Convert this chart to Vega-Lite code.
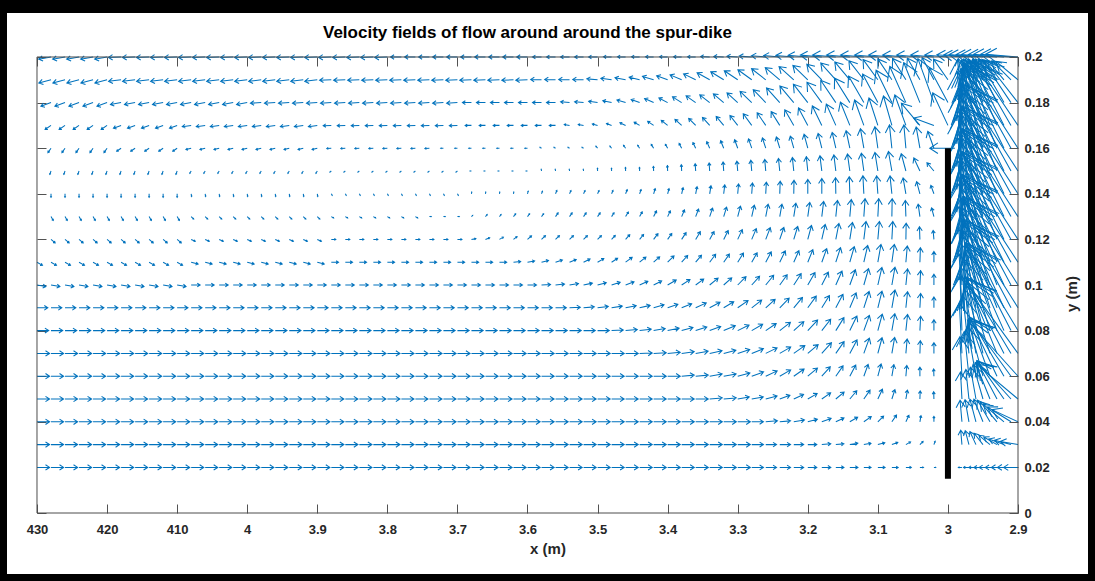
{
"$schema":"https://vega.github.io/schema/vega-lite/v6.json",
"width":1095,"height":581,
"autosize":{"type":"fit","contains":"padding"},
"padding":{"left":7,"right":7,"top":13,"bottom":7},
"background":"#000000",
"config":{"view":{"fill":"#ffffff","stroke":null}},
"title":{"text":"Velocity fields of flow around around the spur-dike","font":"Liberation Sans","fontSize":17,"fontWeight":"bold","color":"#000000","anchor":"middle","frame":"group","offset":-37,"baseline":"middle","dx":-20},
"resolve":{"axis":{"x":"independent","y":"independent"}},
"layer":[
{"data":{"values":[
{"x":4.3,"y":0.02,"d":0,"m":7},{"x":4.28,"y":0.02,"d":0,"m":7},{"x":4.26,"y":0.02,"d":0,"m":7},{"x":4.24,"y":0.02,"d":0,"m":7},{"x":4.22,"y":0.02,"d":0,"m":7},{"x":4.2,"y":0.02,"d":0,"m":7},{"x":4.18,"y":0.02,"d":0,"m":7},{"x":4.16,"y":0.02,"d":0,"m":7},{"x":4.14,"y":0.02,"d":0,"m":7},{"x":4.12,"y":0.02,"d":0,"m":7},{"x":4.1,"y":0.02,"d":0,"m":7},{"x":4.08,"y":0.02,"d":0,"m":7},{"x":4.06,"y":0.02,"d":0,"m":7},{"x":4.04,"y":0.02,"d":0,"m":7},{"x":4.02,"y":0.02,"d":0,"m":7},{"x":4,"y":0.02,"d":0,"m":7},{"x":3.98,"y":0.02,"d":0,"m":7},{"x":3.96,"y":0.02,"d":0,"m":7},{"x":3.94,"y":0.02,"d":0,"m":7},{"x":3.92,"y":0.02,"d":0,"m":7},{"x":3.9,"y":0.02,"d":0,"m":7},{"x":3.88,"y":0.02,"d":0,"m":7},{"x":3.86,"y":0.02,"d":0,"m":7},{"x":3.84,"y":0.02,"d":0,"m":7},{"x":3.82,"y":0.02,"d":0,"m":7},{"x":3.8,"y":0.02,"d":0,"m":7},{"x":3.78,"y":0.02,"d":0,"m":7},{"x":3.76,"y":0.02,"d":0,"m":7},{"x":3.74,"y":0.02,"d":0,"m":7},{"x":3.72,"y":0.02,"d":0,"m":7},{"x":3.7,"y":0.02,"d":0,"m":7},{"x":3.68,"y":0.02,"d":0,"m":7},{"x":3.66,"y":0.02,"d":0,"m":7},{"x":3.64,"y":0.02,"d":0,"m":7},{"x":3.62,"y":0.02,"d":0,"m":7},{"x":3.6,"y":0.02,"d":0,"m":7},{"x":3.58,"y":0.02,"d":0,"m":7},{"x":3.56,"y":0.02,"d":0,"m":7},{"x":3.54,"y":0.02,"d":0,"m":7},{"x":3.52,"y":0.02,"d":0,"m":7},{"x":3.5,"y":0.02,"d":0,"m":7},{"x":3.48,"y":0.02,"d":0,"m":7},{"x":3.46,"y":0.02,"d":0,"m":7},{"x":3.44,"y":0.02,"d":0,"m":7},{"x":3.42,"y":0.02,"d":0,"m":7},{"x":3.4,"y":0.02,"d":0,"m":7},{"x":3.38,"y":0.02,"d":0,"m":7},{"x":3.36,"y":0.02,"d":0,"m":7},{"x":3.34,"y":0.02,"d":0,"m":7},{"x":3.32,"y":0.02,"d":0,"m":7},{"x":3.3,"y":0.02,"d":0,"m":7},{"x":3.28,"y":0.02,"d":0,"m":6.5},{"x":3.26,"y":0.02,"d":0,"m":6},{"x":3.24,"y":0.02,"d":0,"m":6},{"x":3.22,"y":0.02,"d":0,"m":5.5},{"x":3.2,"y":0.02,"d":0,"m":5},{"x":3.18,"y":0.02,"d":0,"m":5},{"x":3.16,"y":0.02,"d":0,"m":4.5},{"x":3.14,"y":0.02,"d":0,"m":4.5},{"x":3.12,"y":0.02,"d":0,"m":4},{"x":3.1,"y":0.02,"d":0,"m":4},{"x":3.08,"y":0.02,"d":0,"m":3.5},{"x":3.06,"y":0.02,"d":0,"m":3},{"x":3.04,"y":0.02,"d":0,"m":2},{"x":3.02,"y":0.02,"d":0,"m":1},
{"x":4.3,"y":0.03,"d":0,"m":7},{"x":4.28,"y":0.03,"d":0,"m":7},{"x":4.26,"y":0.03,"d":0,"m":7},{"x":4.24,"y":0.03,"d":0,"m":7},{"x":4.22,"y":0.03,"d":0,"m":7},{"x":4.2,"y":0.03,"d":0,"m":7},{"x":4.18,"y":0.03,"d":0,"m":7},{"x":4.16,"y":0.03,"d":0,"m":7},{"x":4.14,"y":0.03,"d":0,"m":7},{"x":4.12,"y":0.03,"d":0,"m":7},{"x":4.1,"y":0.03,"d":0,"m":7},{"x":4.08,"y":0.03,"d":0,"m":7},{"x":4.06,"y":0.03,"d":0,"m":7},{"x":4.04,"y":0.03,"d":0,"m":7},{"x":4.02,"y":0.03,"d":0,"m":7},{"x":4,"y":0.03,"d":0,"m":7},{"x":3.98,"y":0.03,"d":0,"m":7},{"x":3.96,"y":0.03,"d":0,"m":7},{"x":3.94,"y":0.03,"d":0,"m":7},{"x":3.92,"y":0.03,"d":0,"m":7},{"x":3.9,"y":0.03,"d":0,"m":7},{"x":3.88,"y":0.03,"d":0,"m":7},{"x":3.86,"y":0.03,"d":0,"m":7},{"x":3.84,"y":0.03,"d":0,"m":7},{"x":3.82,"y":0.03,"d":0,"m":7},{"x":3.8,"y":0.03,"d":0,"m":7},{"x":3.78,"y":0.03,"d":0,"m":7},{"x":3.76,"y":0.03,"d":0,"m":7},{"x":3.74,"y":0.03,"d":0,"m":7},{"x":3.72,"y":0.03,"d":0,"m":7},{"x":3.7,"y":0.03,"d":0,"m":7},{"x":3.68,"y":0.03,"d":0,"m":7},{"x":3.66,"y":0.03,"d":0,"m":7},{"x":3.64,"y":0.03,"d":0,"m":7},{"x":3.62,"y":0.03,"d":0,"m":7},{"x":3.6,"y":0.03,"d":0,"m":7},{"x":3.58,"y":0.03,"d":0,"m":7},{"x":3.56,"y":0.03,"d":0,"m":7},{"x":3.54,"y":0.03,"d":0,"m":7},{"x":3.52,"y":0.03,"d":0,"m":7},{"x":3.5,"y":0.03,"d":0,"m":7},{"x":3.48,"y":0.03,"d":0,"m":7},{"x":3.46,"y":0.03,"d":0,"m":7},{"x":3.44,"y":0.03,"d":0,"m":7},{"x":3.42,"y":0.03,"d":0,"m":7},{"x":3.4,"y":0.03,"d":0,"m":7},{"x":3.38,"y":0.03,"d":0,"m":7},{"x":3.36,"y":0.03,"d":0,"m":7},{"x":3.34,"y":0.03,"d":0,"m":7},{"x":3.32,"y":0.03,"d":0,"m":7},{"x":3.3,"y":0.03,"d":0,"m":7},{"x":3.28,"y":0.03,"d":0,"m":6.5},{"x":3.26,"y":0.03,"d":0,"m":6},{"x":3.24,"y":0.03,"d":0,"m":6},{"x":3.22,"y":0.03,"d":0,"m":5.5},{"x":3.2,"y":0.03,"d":0,"m":5},{"x":3.18,"y":0.03,"d":5,"m":5},{"x":3.16,"y":0.03,"d":5,"m":4.5},{"x":3.14,"y":0.03,"d":10,"m":4.5},{"x":3.12,"y":0.03,"d":10,"m":4},{"x":3.1,"y":0.03,"d":15,"m":4},{"x":3.08,"y":0.03,"d":20,"m":3.5},{"x":3.06,"y":0.03,"d":30,"m":3},{"x":3.04,"y":0.03,"d":45,"m":2.5},{"x":3.02,"y":0.03,"d":70,"m":2},
{"x":4.3,"y":0.04,"d":0,"m":7},{"x":4.28,"y":0.04,"d":0,"m":7},{"x":4.26,"y":0.04,"d":0,"m":7},{"x":4.24,"y":0.04,"d":0,"m":7},{"x":4.22,"y":0.04,"d":0,"m":7},{"x":4.2,"y":0.04,"d":0,"m":7},{"x":4.18,"y":0.04,"d":0,"m":7},{"x":4.16,"y":0.04,"d":0,"m":7},{"x":4.14,"y":0.04,"d":0,"m":7},{"x":4.12,"y":0.04,"d":0,"m":7},{"x":4.1,"y":0.04,"d":0,"m":7},{"x":4.08,"y":0.04,"d":0,"m":7},{"x":4.06,"y":0.04,"d":0,"m":7},{"x":4.04,"y":0.04,"d":0,"m":7},{"x":4.02,"y":0.04,"d":0,"m":7},{"x":4,"y":0.04,"d":0,"m":7},{"x":3.98,"y":0.04,"d":0,"m":7},{"x":3.96,"y":0.04,"d":0,"m":7},{"x":3.94,"y":0.04,"d":0,"m":7},{"x":3.92,"y":0.04,"d":0,"m":7},{"x":3.9,"y":0.04,"d":0,"m":7},{"x":3.88,"y":0.04,"d":0,"m":7},{"x":3.86,"y":0.04,"d":0,"m":7},{"x":3.84,"y":0.04,"d":0,"m":7},{"x":3.82,"y":0.04,"d":0,"m":7},{"x":3.8,"y":0.04,"d":0,"m":7},{"x":3.78,"y":0.04,"d":0,"m":7},{"x":3.76,"y":0.04,"d":0,"m":7},{"x":3.74,"y":0.04,"d":0,"m":7},{"x":3.72,"y":0.04,"d":0,"m":7},{"x":3.7,"y":0.04,"d":0,"m":7},{"x":3.68,"y":0.04,"d":0,"m":7},{"x":3.66,"y":0.04,"d":0,"m":7},{"x":3.64,"y":0.04,"d":0,"m":7},{"x":3.62,"y":0.04,"d":0,"m":7},{"x":3.6,"y":0.04,"d":0,"m":7},{"x":3.58,"y":0.04,"d":0,"m":7},{"x":3.56,"y":0.04,"d":0,"m":7},{"x":3.54,"y":0.04,"d":0,"m":7},{"x":3.52,"y":0.04,"d":0,"m":7},{"x":3.5,"y":0.04,"d":0,"m":7},{"x":3.48,"y":0.04,"d":0,"m":7},{"x":3.46,"y":0.04,"d":0,"m":7},{"x":3.44,"y":0.04,"d":0,"m":7},{"x":3.42,"y":0.04,"d":0,"m":7},{"x":3.4,"y":0.04,"d":0,"m":7},{"x":3.38,"y":0.04,"d":0,"m":7},{"x":3.36,"y":0.04,"d":0,"m":7},{"x":3.34,"y":0.04,"d":0,"m":7},{"x":3.32,"y":0.04,"d":0,"m":7},{"x":3.3,"y":0.04,"d":0,"m":7},{"x":3.28,"y":0.04,"d":0,"m":6.5},{"x":3.26,"y":0.04,"d":5,"m":6.5},{"x":3.24,"y":0.04,"d":5,"m":6},{"x":3.22,"y":0.04,"d":10,"m":6},{"x":3.2,"y":0.04,"d":15,"m":5.5},{"x":3.18,"y":0.04,"d":20,"m":5.5},{"x":3.16,"y":0.04,"d":25,"m":5},{"x":3.14,"y":0.04,"d":30,"m":5},{"x":3.12,"y":0.04,"d":35,"m":5},{"x":3.1,"y":0.04,"d":45,"m":4.5},{"x":3.08,"y":0.04,"d":55,"m":4.5},{"x":3.06,"y":0.04,"d":65,"m":4},{"x":3.04,"y":0.04,"d":80,"m":3.5},{"x":3.02,"y":0.04,"d":90,"m":3},
{"x":4.3,"y":0.05,"d":0,"m":7},{"x":4.28,"y":0.05,"d":0,"m":7},{"x":4.26,"y":0.05,"d":0,"m":7},{"x":4.24,"y":0.05,"d":0,"m":7},{"x":4.22,"y":0.05,"d":0,"m":7},{"x":4.2,"y":0.05,"d":0,"m":7},{"x":4.18,"y":0.05,"d":0,"m":7},{"x":4.16,"y":0.05,"d":0,"m":7},{"x":4.14,"y":0.05,"d":0,"m":7},{"x":4.12,"y":0.05,"d":0,"m":7},{"x":4.1,"y":0.05,"d":0,"m":7},{"x":4.08,"y":0.05,"d":0,"m":7},{"x":4.06,"y":0.05,"d":0,"m":7},{"x":4.04,"y":0.05,"d":0,"m":7},{"x":4.02,"y":0.05,"d":0,"m":7},{"x":4,"y":0.05,"d":0,"m":7},{"x":3.98,"y":0.05,"d":0,"m":7},{"x":3.96,"y":0.05,"d":0,"m":7},{"x":3.94,"y":0.05,"d":0,"m":7},{"x":3.92,"y":0.05,"d":0,"m":7},{"x":3.9,"y":0.05,"d":0,"m":7},{"x":3.88,"y":0.05,"d":0,"m":7},{"x":3.86,"y":0.05,"d":0,"m":7},{"x":3.84,"y":0.05,"d":0,"m":7},{"x":3.82,"y":0.05,"d":0,"m":7},{"x":3.8,"y":0.05,"d":0,"m":7},{"x":3.78,"y":0.05,"d":0,"m":7},{"x":3.76,"y":0.05,"d":0,"m":7},{"x":3.74,"y":0.05,"d":0,"m":7},{"x":3.72,"y":0.05,"d":0,"m":7},{"x":3.7,"y":0.05,"d":0,"m":7},{"x":3.68,"y":0.05,"d":0,"m":7},{"x":3.66,"y":0.05,"d":0,"m":7},{"x":3.64,"y":0.05,"d":0,"m":7},{"x":3.62,"y":0.05,"d":0,"m":7},{"x":3.6,"y":0.05,"d":0,"m":7},{"x":3.58,"y":0.05,"d":0,"m":7},{"x":3.56,"y":0.05,"d":0,"m":7},{"x":3.54,"y":0.05,"d":0,"m":7},{"x":3.52,"y":0.05,"d":0,"m":7},{"x":3.5,"y":0.05,"d":0,"m":7},{"x":3.48,"y":0.05,"d":0,"m":7},{"x":3.46,"y":0.05,"d":0,"m":7},{"x":3.44,"y":0.05,"d":0,"m":7},{"x":3.42,"y":0.05,"d":0,"m":7},{"x":3.4,"y":0.05,"d":0,"m":7},{"x":3.38,"y":0.05,"d":0,"m":7},{"x":3.36,"y":0.05,"d":0,"m":7},{"x":3.34,"y":0.05,"d":5,"m":7},{"x":3.32,"y":0.05,"d":5,"m":7},{"x":3.3,"y":0.05,"d":10,"m":6.5},{"x":3.28,"y":0.05,"d":10,"m":6.5},{"x":3.26,"y":0.05,"d":15,"m":6.5},{"x":3.24,"y":0.05,"d":20,"m":6},{"x":3.22,"y":0.05,"d":25,"m":6},{"x":3.2,"y":0.05,"d":30,"m":6},{"x":3.18,"y":0.05,"d":35,"m":6},{"x":3.16,"y":0.05,"d":40,"m":6},{"x":3.14,"y":0.05,"d":50,"m":6},{"x":3.12,"y":0.05,"d":55,"m":6},{"x":3.1,"y":0.05,"d":65,"m":6},{"x":3.08,"y":0.05,"d":72,"m":5.5},{"x":3.06,"y":0.05,"d":80,"m":5},{"x":3.04,"y":0.05,"d":88,"m":4.5},{"x":3.02,"y":0.05,"d":92,"m":4},
{"x":4.3,"y":0.06,"d":0,"m":7},{"x":4.28,"y":0.06,"d":0,"m":7},{"x":4.26,"y":0.06,"d":0,"m":7},{"x":4.24,"y":0.06,"d":0,"m":7},{"x":4.22,"y":0.06,"d":0,"m":7},{"x":4.2,"y":0.06,"d":0,"m":7},{"x":4.18,"y":0.06,"d":0,"m":7},{"x":4.16,"y":0.06,"d":0,"m":7},{"x":4.14,"y":0.06,"d":0,"m":7},{"x":4.12,"y":0.06,"d":0,"m":7},{"x":4.1,"y":0.06,"d":0,"m":7},{"x":4.08,"y":0.06,"d":0,"m":7},{"x":4.06,"y":0.06,"d":0,"m":7},{"x":4.04,"y":0.06,"d":0,"m":7},{"x":4.02,"y":0.06,"d":0,"m":7},{"x":4,"y":0.06,"d":0,"m":7},{"x":3.98,"y":0.06,"d":0,"m":7},{"x":3.96,"y":0.06,"d":0,"m":7},{"x":3.94,"y":0.06,"d":0,"m":7},{"x":3.92,"y":0.06,"d":0,"m":7},{"x":3.9,"y":0.06,"d":0,"m":7},{"x":3.88,"y":0.06,"d":0,"m":7},{"x":3.86,"y":0.06,"d":0,"m":7},{"x":3.84,"y":0.06,"d":0,"m":7},{"x":3.82,"y":0.06,"d":0,"m":7},{"x":3.8,"y":0.06,"d":0,"m":7},{"x":3.78,"y":0.06,"d":0,"m":7},{"x":3.76,"y":0.06,"d":0,"m":7},{"x":3.74,"y":0.06,"d":0,"m":7},{"x":3.72,"y":0.06,"d":0,"m":7},{"x":3.7,"y":0.06,"d":0,"m":7},{"x":3.68,"y":0.06,"d":0,"m":7},{"x":3.66,"y":0.06,"d":0,"m":7},{"x":3.64,"y":0.06,"d":0,"m":7},{"x":3.62,"y":0.06,"d":0,"m":7},{"x":3.6,"y":0.06,"d":0,"m":7},{"x":3.58,"y":0.06,"d":0,"m":7},{"x":3.56,"y":0.06,"d":0,"m":7},{"x":3.54,"y":0.06,"d":0,"m":7},{"x":3.52,"y":0.06,"d":0,"m":7},{"x":3.5,"y":0.06,"d":0,"m":7},{"x":3.48,"y":0.06,"d":0,"m":7},{"x":3.46,"y":0.06,"d":0,"m":7},{"x":3.44,"y":0.06,"d":0,"m":7},{"x":3.42,"y":0.06,"d":0,"m":7},{"x":3.4,"y":0.06,"d":0,"m":7},{"x":3.38,"y":0.06,"d":5,"m":7},{"x":3.36,"y":0.06,"d":5,"m":7},{"x":3.34,"y":0.06,"d":10,"m":7},{"x":3.32,"y":0.06,"d":10,"m":7},{"x":3.3,"y":0.06,"d":15,"m":7},{"x":3.28,"y":0.06,"d":20,"m":7},{"x":3.26,"y":0.06,"d":25,"m":7},{"x":3.24,"y":0.06,"d":30,"m":7},{"x":3.22,"y":0.06,"d":35,"m":7},{"x":3.2,"y":0.06,"d":40,"m":7},{"x":3.18,"y":0.06,"d":48,"m":7},{"x":3.16,"y":0.06,"d":55,"m":7},{"x":3.14,"y":0.06,"d":62,"m":7},{"x":3.12,"y":0.06,"d":70,"m":7},{"x":3.1,"y":0.06,"d":75,"m":7},{"x":3.08,"y":0.06,"d":80,"m":6.5},{"x":3.06,"y":0.06,"d":85,"m":6},{"x":3.04,"y":0.06,"d":90,"m":5},{"x":3.02,"y":0.06,"d":92,"m":4},
{"x":4.3,"y":0.07,"d":0,"m":7},{"x":4.28,"y":0.07,"d":0,"m":7},{"x":4.26,"y":0.07,"d":0,"m":7},{"x":4.24,"y":0.07,"d":0,"m":7},{"x":4.22,"y":0.07,"d":0,"m":7},{"x":4.2,"y":0.07,"d":0,"m":7},{"x":4.18,"y":0.07,"d":0,"m":7},{"x":4.16,"y":0.07,"d":0,"m":7},{"x":4.14,"y":0.07,"d":0,"m":7},{"x":4.12,"y":0.07,"d":0,"m":7},{"x":4.1,"y":0.07,"d":0,"m":7},{"x":4.08,"y":0.07,"d":0,"m":7},{"x":4.06,"y":0.07,"d":0,"m":7},{"x":4.04,"y":0.07,"d":0,"m":7},{"x":4.02,"y":0.07,"d":0,"m":7},{"x":4,"y":0.07,"d":0,"m":7},{"x":3.98,"y":0.07,"d":0,"m":7},{"x":3.96,"y":0.07,"d":0,"m":7},{"x":3.94,"y":0.07,"d":0,"m":7},{"x":3.92,"y":0.07,"d":0,"m":7},{"x":3.9,"y":0.07,"d":0,"m":7},{"x":3.88,"y":0.07,"d":0,"m":7},{"x":3.86,"y":0.07,"d":0,"m":7},{"x":3.84,"y":0.07,"d":0,"m":7},{"x":3.82,"y":0.07,"d":0,"m":7},{"x":3.8,"y":0.07,"d":0,"m":7},{"x":3.78,"y":0.07,"d":0,"m":7},{"x":3.76,"y":0.07,"d":0,"m":7},{"x":3.74,"y":0.07,"d":0,"m":7},{"x":3.72,"y":0.07,"d":0,"m":7},{"x":3.7,"y":0.07,"d":0,"m":7},{"x":3.68,"y":0.07,"d":0,"m":7},{"x":3.66,"y":0.07,"d":0,"m":7},{"x":3.64,"y":0.07,"d":0,"m":7},{"x":3.62,"y":0.07,"d":0,"m":7},{"x":3.6,"y":0.07,"d":0,"m":7},{"x":3.58,"y":0.07,"d":0,"m":7},{"x":3.56,"y":0.07,"d":0,"m":7},{"x":3.54,"y":0.07,"d":0,"m":7},{"x":3.52,"y":0.07,"d":0,"m":7},{"x":3.5,"y":0.07,"d":0,"m":7},{"x":3.48,"y":0.07,"d":0,"m":7},{"x":3.46,"y":0.07,"d":0,"m":7},{"x":3.44,"y":0.07,"d":2,"m":7},{"x":3.42,"y":0.07,"d":3,"m":7},{"x":3.4,"y":0.07,"d":5,"m":7},{"x":3.38,"y":0.07,"d":8,"m":7},{"x":3.36,"y":0.07,"d":10,"m":7},{"x":3.34,"y":0.07,"d":12,"m":7},{"x":3.32,"y":0.07,"d":15,"m":7},{"x":3.3,"y":0.07,"d":18,"m":7},{"x":3.28,"y":0.07,"d":22,"m":7},{"x":3.26,"y":0.07,"d":26,"m":7},{"x":3.24,"y":0.07,"d":30,"m":7},{"x":3.22,"y":0.07,"d":35,"m":7.5},{"x":3.2,"y":0.07,"d":40,"m":7.5},{"x":3.18,"y":0.07,"d":48,"m":8},{"x":3.16,"y":0.07,"d":55,"m":8},{"x":3.14,"y":0.07,"d":62,"m":8.5},{"x":3.12,"y":0.07,"d":70,"m":9},{"x":3.1,"y":0.07,"d":75,"m":9},{"x":3.08,"y":0.07,"d":80,"m":9},{"x":3.06,"y":0.07,"d":85,"m":8},{"x":3.04,"y":0.07,"d":88,"m":7},{"x":3.02,"y":0.07,"d":90,"m":6},
{"x":4.3,"y":0.08,"d":0,"m":6.5},{"x":4.28,"y":0.08,"d":0,"m":6.5},{"x":4.26,"y":0.08,"d":0,"m":6.5},{"x":4.24,"y":0.08,"d":0,"m":6.5},{"x":4.22,"y":0.08,"d":0,"m":6.5},{"x":4.2,"y":0.08,"d":0,"m":6.5},{"x":4.18,"y":0.08,"d":0,"m":6.5},{"x":4.16,"y":0.08,"d":0,"m":6.5},{"x":4.14,"y":0.08,"d":0,"m":6.5},{"x":4.12,"y":0.08,"d":0,"m":6.5},{"x":4.1,"y":0.08,"d":0,"m":6.5},{"x":4.08,"y":0.08,"d":0,"m":6.5},{"x":4.06,"y":0.08,"d":0,"m":6.5},{"x":4.04,"y":0.08,"d":0,"m":6.5},{"x":4.02,"y":0.08,"d":0,"m":6.5},{"x":4,"y":0.08,"d":0,"m":6.5},{"x":3.98,"y":0.08,"d":0,"m":6.5},{"x":3.96,"y":0.08,"d":0,"m":6.5},{"x":3.94,"y":0.08,"d":0,"m":6.5},{"x":3.92,"y":0.08,"d":0,"m":6.5},{"x":3.9,"y":0.08,"d":0,"m":6.5},{"x":3.88,"y":0.08,"d":0,"m":6.5},{"x":3.86,"y":0.08,"d":0,"m":6.5},{"x":3.84,"y":0.08,"d":0,"m":6.5},{"x":3.82,"y":0.08,"d":0,"m":6.5},{"x":3.8,"y":0.08,"d":0,"m":6.5},{"x":3.78,"y":0.08,"d":0,"m":6.5},{"x":3.76,"y":0.08,"d":0,"m":6.5},{"x":3.74,"y":0.08,"d":0,"m":6.5},{"x":3.72,"y":0.08,"d":0,"m":6.5},{"x":3.7,"y":0.08,"d":0,"m":6.5},{"x":3.68,"y":0.08,"d":0,"m":6.5},{"x":3.66,"y":0.08,"d":0,"m":6.5},{"x":3.64,"y":0.08,"d":0,"m":6.5},{"x":3.62,"y":0.08,"d":0,"m":6.5},{"x":3.6,"y":0.08,"d":0,"m":6.5},{"x":3.58,"y":0.08,"d":0,"m":6.5},{"x":3.56,"y":0.08,"d":0,"m":6.5},{"x":3.54,"y":0.08,"d":0,"m":6.5},{"x":3.52,"y":0.08,"d":0,"m":6.5},{"x":3.5,"y":0.08,"d":0,"m":6.5},{"x":3.48,"y":0.08,"d":3,"m":6.5},{"x":3.46,"y":0.08,"d":5,"m":6.5},{"x":3.44,"y":0.08,"d":7,"m":6.5},{"x":3.42,"y":0.08,"d":10,"m":6.5},{"x":3.4,"y":0.08,"d":12,"m":6.5},{"x":3.38,"y":0.08,"d":15,"m":6.5},{"x":3.36,"y":0.08,"d":18,"m":6.5},{"x":3.34,"y":0.08,"d":20,"m":6.5},{"x":3.32,"y":0.08,"d":23,"m":7},{"x":3.3,"y":0.08,"d":26,"m":7},{"x":3.28,"y":0.08,"d":30,"m":7},{"x":3.26,"y":0.08,"d":34,"m":7},{"x":3.24,"y":0.08,"d":38,"m":7.5},{"x":3.22,"y":0.08,"d":42,"m":7.5},{"x":3.2,"y":0.08,"d":47,"m":8},{"x":3.18,"y":0.08,"d":52,"m":8},{"x":3.16,"y":0.08,"d":58,"m":8.5},{"x":3.14,"y":0.08,"d":64,"m":9},{"x":3.12,"y":0.08,"d":70,"m":9},{"x":3.1,"y":0.08,"d":75,"m":9.5},{"x":3.08,"y":0.08,"d":80,"m":9.5},{"x":3.06,"y":0.08,"d":84,"m":9},{"x":3.04,"y":0.08,"d":87,"m":8},{"x":3.02,"y":0.08,"d":90,"m":6},
{"x":4.3,"y":0.09,"d":0,"m":6},{"x":4.28,"y":0.09,"d":0,"m":6},{"x":4.26,"y":0.09,"d":0,"m":6},{"x":4.24,"y":0.09,"d":0,"m":6},{"x":4.22,"y":0.09,"d":0,"m":6},{"x":4.2,"y":0.09,"d":0,"m":6},{"x":4.18,"y":0.09,"d":0,"m":6},{"x":4.16,"y":0.09,"d":0,"m":6},{"x":4.14,"y":0.09,"d":0,"m":6},{"x":4.12,"y":0.09,"d":0,"m":6},{"x":4.1,"y":0.09,"d":0,"m":6},{"x":4.08,"y":0.09,"d":0,"m":6},{"x":4.06,"y":0.09,"d":0,"m":6},{"x":4.04,"y":0.09,"d":0,"m":6},{"x":4.02,"y":0.09,"d":0,"m":6},{"x":4,"y":0.09,"d":0,"m":6},{"x":3.98,"y":0.09,"d":0,"m":6},{"x":3.96,"y":0.09,"d":0,"m":6},{"x":3.94,"y":0.09,"d":0,"m":6},{"x":3.92,"y":0.09,"d":0,"m":6},{"x":3.9,"y":0.09,"d":0,"m":6},{"x":3.88,"y":0.09,"d":0,"m":6},{"x":3.86,"y":0.09,"d":0,"m":6},{"x":3.84,"y":0.09,"d":0,"m":6},{"x":3.82,"y":0.09,"d":0,"m":6},{"x":3.8,"y":0.09,"d":0,"m":6},{"x":3.78,"y":0.09,"d":0,"m":6},{"x":3.76,"y":0.09,"d":0,"m":6},{"x":3.74,"y":0.09,"d":0,"m":6},{"x":3.72,"y":0.09,"d":0,"m":6},{"x":3.7,"y":0.09,"d":0,"m":6},{"x":3.68,"y":0.09,"d":0,"m":6},{"x":3.66,"y":0.09,"d":0,"m":6},{"x":3.64,"y":0.09,"d":0,"m":6},{"x":3.62,"y":0.09,"d":0,"m":6},{"x":3.6,"y":0.09,"d":0,"m":6},{"x":3.58,"y":0.09,"d":0,"m":6},{"x":3.56,"y":0.09,"d":0,"m":6},{"x":3.54,"y":0.09,"d":3,"m":6},{"x":3.52,"y":0.09,"d":5,"m":6},{"x":3.5,"y":0.09,"d":7,"m":6},{"x":3.48,"y":0.09,"d":9,"m":6},{"x":3.46,"y":0.09,"d":11,"m":6},{"x":3.44,"y":0.09,"d":13,"m":6},{"x":3.42,"y":0.09,"d":16,"m":6},{"x":3.4,"y":0.09,"d":19,"m":6},{"x":3.38,"y":0.09,"d":22,"m":6},{"x":3.36,"y":0.09,"d":25,"m":6.5},{"x":3.34,"y":0.09,"d":28,"m":6.5},{"x":3.32,"y":0.09,"d":31,"m":6.5},{"x":3.3,"y":0.09,"d":35,"m":7},{"x":3.28,"y":0.09,"d":38,"m":7},{"x":3.26,"y":0.09,"d":42,"m":7},{"x":3.24,"y":0.09,"d":46,"m":7.5},{"x":3.22,"y":0.09,"d":50,"m":7.5},{"x":3.2,"y":0.09,"d":54,"m":8},{"x":3.18,"y":0.09,"d":58,"m":8},{"x":3.16,"y":0.09,"d":62,"m":8.5},{"x":3.14,"y":0.09,"d":67,"m":9},{"x":3.12,"y":0.09,"d":72,"m":9.5},{"x":3.1,"y":0.09,"d":76,"m":9.5},{"x":3.08,"y":0.09,"d":80,"m":10},{"x":3.06,"y":0.09,"d":84,"m":9},{"x":3.04,"y":0.09,"d":87,"m":8},{"x":3.02,"y":0.09,"d":90,"m":6},
{"x":4.3,"y":0.1,"d":350,"m":5},{"x":4.28,"y":0.1,"d":350,"m":5},{"x":4.26,"y":0.1,"d":350,"m":5},{"x":4.24,"y":0.1,"d":350,"m":5},{"x":4.22,"y":0.1,"d":350,"m":5},{"x":4.2,"y":0.1,"d":350,"m":5},{"x":4.18,"y":0.1,"d":350,"m":5},{"x":4.16,"y":0.1,"d":350,"m":5},{"x":4.14,"y":0.1,"d":350,"m":5},{"x":4.12,"y":0.1,"d":350,"m":5},{"x":4.1,"y":0.1,"d":350,"m":5},{"x":4.08,"y":0.1,"d":0,"m":5},{"x":4.06,"y":0.1,"d":0,"m":5},{"x":4.04,"y":0.1,"d":0,"m":5},{"x":4.02,"y":0.1,"d":0,"m":5},{"x":4,"y":0.1,"d":0,"m":5},{"x":3.98,"y":0.1,"d":0,"m":5},{"x":3.96,"y":0.1,"d":0,"m":5},{"x":3.94,"y":0.1,"d":0,"m":5},{"x":3.92,"y":0.1,"d":0,"m":5},{"x":3.9,"y":0.1,"d":0,"m":5},{"x":3.88,"y":0.1,"d":0,"m":5},{"x":3.86,"y":0.1,"d":0,"m":5},{"x":3.84,"y":0.1,"d":0,"m":5},{"x":3.82,"y":0.1,"d":0,"m":5},{"x":3.8,"y":0.1,"d":0,"m":5},{"x":3.78,"y":0.1,"d":0,"m":5},{"x":3.76,"y":0.1,"d":0,"m":5},{"x":3.74,"y":0.1,"d":0,"m":5},{"x":3.72,"y":0.1,"d":0,"m":5},{"x":3.7,"y":0.1,"d":0,"m":5},{"x":3.68,"y":0.1,"d":0,"m":5},{"x":3.66,"y":0.1,"d":0,"m":5},{"x":3.64,"y":0.1,"d":0,"m":5},{"x":3.62,"y":0.1,"d":0,"m":5},{"x":3.6,"y":0.1,"d":0,"m":5},{"x":3.58,"y":0.1,"d":3,"m":5},{"x":3.56,"y":0.1,"d":6,"m":5},{"x":3.54,"y":0.1,"d":9,"m":5},{"x":3.52,"y":0.1,"d":12,"m":5},{"x":3.5,"y":0.1,"d":15,"m":5},{"x":3.48,"y":0.1,"d":18,"m":5},{"x":3.46,"y":0.1,"d":21,"m":5},{"x":3.44,"y":0.1,"d":24,"m":5},{"x":3.42,"y":0.1,"d":27,"m":5},{"x":3.4,"y":0.1,"d":30,"m":5.5},{"x":3.38,"y":0.1,"d":33,"m":5.5},{"x":3.36,"y":0.1,"d":36,"m":5.5},{"x":3.34,"y":0.1,"d":39,"m":6},{"x":3.32,"y":0.1,"d":42,"m":6},{"x":3.3,"y":0.1,"d":45,"m":6.5},{"x":3.28,"y":0.1,"d":48,"m":6.5},{"x":3.26,"y":0.1,"d":51,"m":7},{"x":3.24,"y":0.1,"d":54,"m":7},{"x":3.22,"y":0.1,"d":57,"m":7.5},{"x":3.2,"y":0.1,"d":60,"m":8},{"x":3.18,"y":0.1,"d":63,"m":8},{"x":3.16,"y":0.1,"d":66,"m":8.5},{"x":3.14,"y":0.1,"d":70,"m":9},{"x":3.12,"y":0.1,"d":74,"m":9.5},{"x":3.1,"y":0.1,"d":77,"m":10},{"x":3.08,"y":0.1,"d":80,"m":10},{"x":3.06,"y":0.1,"d":84,"m":9},{"x":3.04,"y":0.1,"d":87,"m":8},{"x":3.02,"y":0.1,"d":90,"m":6},
{"x":4.3,"y":0.11,"d":330,"m":3.5},{"x":4.28,"y":0.11,"d":330,"m":3.5},{"x":4.26,"y":0.11,"d":330,"m":3.5},{"x":4.24,"y":0.11,"d":330,"m":3.5},{"x":4.22,"y":0.11,"d":330,"m":3.5},{"x":4.2,"y":0.11,"d":330,"m":3.5},{"x":4.18,"y":0.11,"d":330,"m":3.5},{"x":4.16,"y":0.11,"d":330,"m":3.5},{"x":4.14,"y":0.11,"d":330,"m":3.5},{"x":4.12,"y":0.11,"d":330,"m":3.5},{"x":4.1,"y":0.11,"d":330,"m":3.5},{"x":4.08,"y":0.11,"d":345,"m":4},{"x":4.06,"y":0.11,"d":345,"m":4},{"x":4.04,"y":0.11,"d":345,"m":4},{"x":4.02,"y":0.11,"d":345,"m":4},{"x":4,"y":0.11,"d":345,"m":4},{"x":3.98,"y":0.11,"d":345,"m":4},{"x":3.96,"y":0.11,"d":345,"m":4},{"x":3.94,"y":0.11,"d":345,"m":4},{"x":3.92,"y":0.11,"d":345,"m":4},{"x":3.9,"y":0.11,"d":345,"m":4},{"x":3.88,"y":0.11,"d":0,"m":4},{"x":3.86,"y":0.11,"d":0,"m":4},{"x":3.84,"y":0.11,"d":0,"m":4},{"x":3.82,"y":0.11,"d":0,"m":4},{"x":3.8,"y":0.11,"d":0,"m":4},{"x":3.78,"y":0.11,"d":0,"m":4},{"x":3.76,"y":0.11,"d":0,"m":4},{"x":3.74,"y":0.11,"d":0,"m":4},{"x":3.72,"y":0.11,"d":0,"m":4},{"x":3.7,"y":0.11,"d":0,"m":4},{"x":3.68,"y":0.11,"d":0,"m":4},{"x":3.66,"y":0.11,"d":0,"m":4},{"x":3.64,"y":0.11,"d":0,"m":4},{"x":3.62,"y":0.11,"d":5,"m":4},{"x":3.6,"y":0.11,"d":10,"m":4},{"x":3.58,"y":0.11,"d":14,"m":4},{"x":3.56,"y":0.11,"d":18,"m":4},{"x":3.54,"y":0.11,"d":22,"m":4},{"x":3.52,"y":0.11,"d":26,"m":4},{"x":3.5,"y":0.11,"d":30,"m":4},{"x":3.48,"y":0.11,"d":33,"m":4},{"x":3.46,"y":0.11,"d":36,"m":4.5},{"x":3.44,"y":0.11,"d":39,"m":4.5},{"x":3.42,"y":0.11,"d":42,"m":4.5},{"x":3.4,"y":0.11,"d":45,"m":5},{"x":3.38,"y":0.11,"d":48,"m":5},{"x":3.36,"y":0.11,"d":50,"m":5},{"x":3.34,"y":0.11,"d":53,"m":5.5},{"x":3.32,"y":0.11,"d":55,"m":5.5},{"x":3.3,"y":0.11,"d":58,"m":6},{"x":3.28,"y":0.11,"d":60,"m":6},{"x":3.26,"y":0.11,"d":62,"m":6.5},{"x":3.24,"y":0.11,"d":64,"m":7},{"x":3.22,"y":0.11,"d":66,"m":7},{"x":3.2,"y":0.11,"d":68,"m":7.5},{"x":3.18,"y":0.11,"d":70,"m":8},{"x":3.16,"y":0.11,"d":72,"m":8.5},{"x":3.14,"y":0.11,"d":74,"m":9},{"x":3.12,"y":0.11,"d":77,"m":9.5},{"x":3.1,"y":0.11,"d":80,"m":10},{"x":3.08,"y":0.11,"d":82,"m":10},{"x":3.06,"y":0.11,"d":85,"m":9},{"x":3.04,"y":0.11,"d":88,"m":8},{"x":3.02,"y":0.11,"d":90,"m":6},
{"x":4.28,"y":0.12,"d":320,"m":3},{"x":4.26,"y":0.12,"d":320,"m":3},{"x":4.24,"y":0.12,"d":320,"m":3},{"x":4.22,"y":0.12,"d":320,"m":3},{"x":4.2,"y":0.12,"d":320,"m":3},{"x":4.18,"y":0.12,"d":320,"m":3},{"x":4.16,"y":0.12,"d":320,"m":3},{"x":4.14,"y":0.12,"d":320,"m":3},{"x":4.12,"y":0.12,"d":320,"m":3},{"x":4.1,"y":0.12,"d":320,"m":3},{"x":4.08,"y":0.12,"d":335,"m":2.5},{"x":4.06,"y":0.12,"d":335,"m":2.5},{"x":4.04,"y":0.12,"d":335,"m":2.5},{"x":4.02,"y":0.12,"d":335,"m":2.5},{"x":4,"y":0.12,"d":335,"m":2.5},{"x":3.98,"y":0.12,"d":335,"m":2.5},{"x":3.96,"y":0.12,"d":335,"m":2.5},{"x":3.94,"y":0.12,"d":335,"m":2.5},{"x":3.92,"y":0.12,"d":335,"m":2.5},{"x":3.9,"y":0.12,"d":335,"m":2.5},{"x":3.88,"y":0.12,"d":0,"m":2.5},{"x":3.86,"y":0.12,"d":0,"m":2.5},{"x":3.84,"y":0.12,"d":0,"m":2.5},{"x":3.82,"y":0.12,"d":0,"m":2.5},{"x":3.8,"y":0.12,"d":0,"m":2.5},{"x":3.78,"y":0.12,"d":0,"m":2.5},{"x":3.76,"y":0.12,"d":0,"m":2.5},{"x":3.74,"y":0.12,"d":0,"m":2.5},{"x":3.72,"y":0.12,"d":0,"m":2.5},{"x":3.7,"y":0.12,"d":0,"m":2.5},{"x":3.68,"y":0.12,"d":10,"m":2.5},{"x":3.66,"y":0.12,"d":20,"m":2.5},{"x":3.64,"y":0.12,"d":30,"m":2.5},{"x":3.62,"y":0.12,"d":38,"m":2.5},{"x":3.6,"y":0.12,"d":42,"m":3},{"x":3.58,"y":0.12,"d":43,"m":3},{"x":3.56,"y":0.12,"d":44,"m":3},{"x":3.54,"y":0.12,"d":44,"m":3},{"x":3.52,"y":0.12,"d":45,"m":3},{"x":3.5,"y":0.12,"d":45,"m":3},{"x":3.48,"y":0.12,"d":47,"m":3},{"x":3.46,"y":0.12,"d":49,"m":3.5},{"x":3.44,"y":0.12,"d":51,"m":3.5},{"x":3.42,"y":0.12,"d":53,"m":4},{"x":3.4,"y":0.12,"d":55,"m":4},{"x":3.38,"y":0.12,"d":57,"m":4.5},{"x":3.36,"y":0.12,"d":59,"m":5},{"x":3.34,"y":0.12,"d":61,"m":5},{"x":3.32,"y":0.12,"d":63,"m":5.5},{"x":3.3,"y":0.12,"d":65,"m":6},{"x":3.28,"y":0.12,"d":67,"m":6.5},{"x":3.26,"y":0.12,"d":69,"m":7},{"x":3.24,"y":0.12,"d":71,"m":7},{"x":3.22,"y":0.12,"d":73,"m":7.5},{"x":3.2,"y":0.12,"d":75,"m":8},{"x":3.18,"y":0.12,"d":77,"m":8.5},{"x":3.16,"y":0.12,"d":79,"m":9},{"x":3.14,"y":0.12,"d":81,"m":9.5},{"x":3.12,"y":0.12,"d":83,"m":10},{"x":3.1,"y":0.12,"d":85,"m":10},{"x":3.08,"y":0.12,"d":87,"m":10},{"x":3.06,"y":0.12,"d":89,"m":9},{"x":3.04,"y":0.12,"d":92,"m":7},{"x":3.02,"y":0.12,"d":95,"m":5},
{"x":4.28,"y":0.13,"d":300,"m":2.5},{"x":4.26,"y":0.13,"d":300,"m":2.5},{"x":4.24,"y":0.13,"d":300,"m":2.5},{"x":4.22,"y":0.13,"d":300,"m":2.5},{"x":4.2,"y":0.13,"d":300,"m":2.5},{"x":4.18,"y":0.13,"d":300,"m":2.5},{"x":4.16,"y":0.13,"d":300,"m":2.5},{"x":4.14,"y":0.13,"d":300,"m":2.5},{"x":4.12,"y":0.13,"d":300,"m":2.5},{"x":4.1,"y":0.13,"d":300,"m":2.5},{"x":4.08,"y":0.13,"d":315,"m":2},{"x":4.06,"y":0.13,"d":315,"m":2},{"x":4.04,"y":0.13,"d":315,"m":2},{"x":4.02,"y":0.13,"d":315,"m":2},{"x":4,"y":0.13,"d":315,"m":2},{"x":3.98,"y":0.13,"d":315,"m":2},{"x":3.96,"y":0.13,"d":315,"m":2},{"x":3.94,"y":0.13,"d":315,"m":2},{"x":3.92,"y":0.13,"d":315,"m":2},{"x":3.9,"y":0.13,"d":315,"m":2},{"x":3.88,"y":0.13,"d":330,"m":1.5},{"x":3.86,"y":0.13,"d":330,"m":1.5},{"x":3.84,"y":0.13,"d":330,"m":1.5},{"x":3.82,"y":0.13,"d":330,"m":1.5},{"x":3.8,"y":0.13,"d":330,"m":1.5},{"x":3.78,"y":0.13,"d":330,"m":1.5},{"x":3.76,"y":0.13,"d":330,"m":1.5},{"x":3.74,"y":0.13,"d":0,"m":1},{"x":3.72,"y":0.13,"d":0,"m":1},{"x":3.7,"y":0.13,"d":0,"m":1},{"x":3.68,"y":0.13,"d":45,"m":1},{"x":3.66,"y":0.13,"d":50,"m":1.5},{"x":3.64,"y":0.13,"d":52,"m":1.5},{"x":3.62,"y":0.13,"d":53,"m":2},{"x":3.6,"y":0.13,"d":54,"m":2},{"x":3.58,"y":0.13,"d":54,"m":2},{"x":3.56,"y":0.13,"d":55,"m":2.5},{"x":3.54,"y":0.13,"d":55,"m":2.5},{"x":3.52,"y":0.13,"d":55,"m":2.5},{"x":3.5,"y":0.13,"d":55,"m":2.5},{"x":3.48,"y":0.13,"d":57,"m":2.5},{"x":3.46,"y":0.13,"d":59,"m":3},{"x":3.44,"y":0.13,"d":61,"m":3},{"x":3.42,"y":0.13,"d":63,"m":3.5},{"x":3.4,"y":0.13,"d":65,"m":3.5},{"x":3.38,"y":0.13,"d":67,"m":4},{"x":3.36,"y":0.13,"d":69,"m":4.5},{"x":3.34,"y":0.13,"d":71,"m":5},{"x":3.32,"y":0.13,"d":73,"m":5.5},{"x":3.3,"y":0.13,"d":75,"m":6},{"x":3.28,"y":0.13,"d":77,"m":6.5},{"x":3.26,"y":0.13,"d":79,"m":7},{"x":3.24,"y":0.13,"d":80,"m":7},{"x":3.22,"y":0.13,"d":81,"m":7.5},{"x":3.2,"y":0.13,"d":82,"m":8},{"x":3.18,"y":0.13,"d":83,"m":8.5},{"x":3.16,"y":0.13,"d":84,"m":9},{"x":3.14,"y":0.13,"d":85,"m":9.5},{"x":3.12,"y":0.13,"d":86,"m":10},{"x":3.1,"y":0.13,"d":87,"m":10},{"x":3.08,"y":0.13,"d":89,"m":10},{"x":3.06,"y":0.13,"d":92,"m":9},{"x":3.04,"y":0.13,"d":98,"m":7},{"x":3.02,"y":0.13,"d":105,"m":5},
{"x":4.28,"y":0.14,"d":270,"m":2},{"x":4.26,"y":0.14,"d":270,"m":2},{"x":4.24,"y":0.14,"d":270,"m":2},{"x":4.22,"y":0.14,"d":270,"m":2},{"x":4.2,"y":0.14,"d":270,"m":2},{"x":4.18,"y":0.14,"d":270,"m":2},{"x":4.16,"y":0.14,"d":270,"m":2},{"x":4.14,"y":0.14,"d":270,"m":2},{"x":4.12,"y":0.14,"d":270,"m":2},{"x":4.1,"y":0.14,"d":270,"m":2},{"x":4.08,"y":0.14,"d":280,"m":1.5},{"x":4.06,"y":0.14,"d":280,"m":1.5},{"x":4.04,"y":0.14,"d":280,"m":1.5},{"x":4.02,"y":0.14,"d":280,"m":1.5},{"x":4,"y":0.14,"d":280,"m":1.5},{"x":3.98,"y":0.14,"d":280,"m":1.5},{"x":3.96,"y":0.14,"d":280,"m":1.5},{"x":3.94,"y":0.14,"d":280,"m":1.5},{"x":3.92,"y":0.14,"d":280,"m":1.5},{"x":3.9,"y":0.14,"d":280,"m":1.5},{"x":3.88,"y":0.14,"d":300,"m":1},{"x":3.86,"y":0.14,"d":300,"m":1},{"x":3.84,"y":0.14,"d":300,"m":1},{"x":3.82,"y":0.14,"d":300,"m":1},{"x":3.8,"y":0.14,"d":300,"m":1},{"x":3.78,"y":0.14,"d":300,"m":1},{"x":3.76,"y":0.14,"d":300,"m":1},{"x":3.74,"y":0.14,"d":300,"m":1},{"x":3.72,"y":0.14,"d":300,"m":1},{"x":3.7,"y":0.14,"d":300,"m":1},{"x":3.68,"y":0.14,"d":80,"m":1},{"x":3.66,"y":0.14,"d":80,"m":1},{"x":3.64,"y":0.14,"d":80,"m":1},{"x":3.62,"y":0.14,"d":80,"m":1},{"x":3.6,"y":0.14,"d":75,"m":1.5},{"x":3.58,"y":0.14,"d":70,"m":1.5},{"x":3.56,"y":0.14,"d":68,"m":2},{"x":3.54,"y":0.14,"d":66,"m":2},{"x":3.52,"y":0.14,"d":65,"m":2},{"x":3.5,"y":0.14,"d":65,"m":2},{"x":3.48,"y":0.14,"d":67,"m":2},{"x":3.46,"y":0.14,"d":69,"m":2.5},{"x":3.44,"y":0.14,"d":71,"m":2.5},{"x":3.42,"y":0.14,"d":73,"m":3},{"x":3.4,"y":0.14,"d":75,"m":3},{"x":3.38,"y":0.14,"d":77,"m":3.5},{"x":3.36,"y":0.14,"d":79,"m":4},{"x":3.34,"y":0.14,"d":81,"m":4.5},{"x":3.32,"y":0.14,"d":83,"m":5},{"x":3.3,"y":0.14,"d":85,"m":5.5},{"x":3.28,"y":0.14,"d":86,"m":6},{"x":3.26,"y":0.14,"d":87,"m":6.5},{"x":3.24,"y":0.14,"d":88,"m":7},{"x":3.22,"y":0.14,"d":89,"m":7.5},{"x":3.2,"y":0.14,"d":90,"m":8},{"x":3.18,"y":0.14,"d":90,"m":8.5},{"x":3.16,"y":0.14,"d":91,"m":9},{"x":3.14,"y":0.14,"d":92,"m":9.5},{"x":3.12,"y":0.14,"d":93,"m":10},{"x":3.1,"y":0.14,"d":94,"m":10},{"x":3.08,"y":0.14,"d":96,"m":10},{"x":3.06,"y":0.14,"d":100,"m":9},{"x":3.04,"y":0.14,"d":105,"m":7},{"x":3.02,"y":0.14,"d":110,"m":5},
{"x":4.28,"y":0.15,"d":250,"m":2},{"x":4.26,"y":0.15,"d":250,"m":2},{"x":4.24,"y":0.15,"d":250,"m":2},{"x":4.22,"y":0.15,"d":250,"m":2},{"x":4.2,"y":0.15,"d":250,"m":2},{"x":4.18,"y":0.15,"d":250,"m":2},{"x":4.16,"y":0.15,"d":250,"m":2},{"x":4.14,"y":0.15,"d":250,"m":2},{"x":4.12,"y":0.15,"d":250,"m":2},{"x":4.1,"y":0.15,"d":250,"m":2},{"x":4.08,"y":0.15,"d":240,"m":1.5},{"x":4.06,"y":0.15,"d":240,"m":1.5},{"x":4.04,"y":0.15,"d":240,"m":1.5},{"x":4.02,"y":0.15,"d":240,"m":1.5},{"x":4,"y":0.15,"d":240,"m":1.5},{"x":3.98,"y":0.15,"d":240,"m":1.5},{"x":3.96,"y":0.15,"d":240,"m":1.5},{"x":3.94,"y":0.15,"d":240,"m":1.5},{"x":3.92,"y":0.15,"d":240,"m":1.5},{"x":3.9,"y":0.15,"d":240,"m":1.5},{"x":3.88,"y":0.15,"d":220,"m":1},{"x":3.86,"y":0.15,"d":220,"m":1},{"x":3.84,"y":0.15,"d":220,"m":1},{"x":3.82,"y":0.15,"d":220,"m":1},{"x":3.8,"y":0.15,"d":220,"m":1},{"x":3.78,"y":0.15,"d":220,"m":1},{"x":3.76,"y":0.15,"d":220,"m":1},{"x":3.74,"y":0.15,"d":220,"m":1},{"x":3.72,"y":0.15,"d":220,"m":1},{"x":3.7,"y":0.15,"d":220,"m":1},{"x":3.68,"y":0.15,"d":180,"m":0.8},{"x":3.66,"y":0.15,"d":180,"m":0.8},{"x":3.64,"y":0.15,"d":180,"m":0.8},{"x":3.62,"y":0.15,"d":180,"m":0.8},{"x":3.6,"y":0.15,"d":180,"m":0.8},{"x":3.58,"y":0.15,"d":100,"m":1},{"x":3.56,"y":0.15,"d":100,"m":1},{"x":3.54,"y":0.15,"d":100,"m":1},{"x":3.52,"y":0.15,"d":100,"m":1},{"x":3.5,"y":0.15,"d":92,"m":1.5},{"x":3.48,"y":0.15,"d":92,"m":1.5},{"x":3.46,"y":0.15,"d":92,"m":2},{"x":3.44,"y":0.15,"d":92,"m":2},{"x":3.42,"y":0.15,"d":93,"m":2.5},{"x":3.4,"y":0.15,"d":93,"m":3},{"x":3.38,"y":0.15,"d":93,"m":3.5},{"x":3.36,"y":0.15,"d":94,"m":4},{"x":3.34,"y":0.15,"d":94,"m":4.5},{"x":3.32,"y":0.15,"d":94,"m":5},{"x":3.3,"y":0.15,"d":95,"m":5.5},{"x":3.28,"y":0.15,"d":95,"m":6},{"x":3.26,"y":0.15,"d":95,"m":6.5},{"x":3.24,"y":0.15,"d":96,"m":7},{"x":3.22,"y":0.15,"d":96,"m":7.5},{"x":3.2,"y":0.15,"d":96,"m":8},{"x":3.18,"y":0.15,"d":97,"m":8.5},{"x":3.16,"y":0.15,"d":97,"m":9},{"x":3.14,"y":0.15,"d":98,"m":9.5},{"x":3.12,"y":0.15,"d":98,"m":10},{"x":3.1,"y":0.15,"d":99,"m":10.5},{"x":3.08,"y":0.15,"d":100,"m":11},{"x":3.06,"y":0.15,"d":105,"m":10},{"x":3.04,"y":0.15,"d":115,"m":8},{"x":3.02,"y":0.15,"d":130,"m":6},
{"x":4.28,"y":0.16,"d":235,"m":3},{"x":4.26,"y":0.16,"d":235,"m":3},{"x":4.24,"y":0.16,"d":235,"m":3},{"x":4.22,"y":0.16,"d":235,"m":3},{"x":4.2,"y":0.16,"d":235,"m":3},{"x":4.18,"y":0.16,"d":215,"m":3},{"x":4.16,"y":0.16,"d":215,"m":3},{"x":4.14,"y":0.16,"d":215,"m":3},{"x":4.12,"y":0.16,"d":215,"m":3},{"x":4.1,"y":0.16,"d":215,"m":3},{"x":4.08,"y":0.16,"d":195,"m":3},{"x":4.06,"y":0.16,"d":195,"m":3},{"x":4.04,"y":0.16,"d":195,"m":3},{"x":4.02,"y":0.16,"d":195,"m":3},{"x":4,"y":0.16,"d":195,"m":3},{"x":3.98,"y":0.16,"d":195,"m":3},{"x":3.96,"y":0.16,"d":195,"m":3},{"x":3.94,"y":0.16,"d":195,"m":3},{"x":3.92,"y":0.16,"d":195,"m":3},{"x":3.9,"y":0.16,"d":195,"m":3},{"x":3.88,"y":0.16,"d":185,"m":2.5},{"x":3.86,"y":0.16,"d":185,"m":2.5},{"x":3.84,"y":0.16,"d":185,"m":2.5},{"x":3.82,"y":0.16,"d":185,"m":2.5},{"x":3.8,"y":0.16,"d":185,"m":2.5},{"x":3.78,"y":0.16,"d":185,"m":2.5},{"x":3.76,"y":0.16,"d":185,"m":2.5},{"x":3.74,"y":0.16,"d":185,"m":2.5},{"x":3.72,"y":0.16,"d":180,"m":1.5},{"x":3.7,"y":0.16,"d":180,"m":1.5},{"x":3.68,"y":0.16,"d":180,"m":1.5},{"x":3.66,"y":0.16,"d":180,"m":1.5},{"x":3.64,"y":0.16,"d":180,"m":1.5},{"x":3.62,"y":0.16,"d":180,"m":1.5},{"x":3.6,"y":0.16,"d":180,"m":1.5},{"x":3.58,"y":0.16,"d":150,"m":1},{"x":3.56,"y":0.16,"d":150,"m":1},{"x":3.54,"y":0.16,"d":150,"m":1},{"x":3.52,"y":0.16,"d":150,"m":1},{"x":3.5,"y":0.16,"d":130,"m":1.5},{"x":3.48,"y":0.16,"d":128,"m":1.5},{"x":3.46,"y":0.16,"d":126,"m":2},{"x":3.44,"y":0.16,"d":124,"m":2},{"x":3.42,"y":0.16,"d":122,"m":2.5},{"x":3.4,"y":0.16,"d":120,"m":2.5},{"x":3.38,"y":0.16,"d":118,"m":3},{"x":3.36,"y":0.16,"d":116,"m":3.5},{"x":3.34,"y":0.16,"d":114,"m":4},{"x":3.32,"y":0.16,"d":112,"m":4.5},{"x":3.3,"y":0.16,"d":110,"m":5},{"x":3.28,"y":0.16,"d":109,"m":5.5},{"x":3.26,"y":0.16,"d":108,"m":6},{"x":3.24,"y":0.16,"d":107,"m":6.5},{"x":3.22,"y":0.16,"d":106,"m":7},{"x":3.2,"y":0.16,"d":105,"m":8},{"x":3.18,"y":0.16,"d":104,"m":8.5},{"x":3.16,"y":0.16,"d":103,"m":9},{"x":3.14,"y":0.16,"d":102,"m":10},{"x":3.12,"y":0.16,"d":100,"m":11},{"x":3.1,"y":0.16,"d":98,"m":12},{"x":3.08,"y":0.16,"d":96,"m":13},{"x":3.06,"y":0.16,"d":95,"m":13},{"x":3.04,"y":0.16,"d":100,"m":12},{"x":3.02,"y":0.16,"d":110,"m":10},
{"x":4.28,"y":0.17,"d":215,"m":4},{"x":4.26,"y":0.17,"d":215,"m":4},{"x":4.24,"y":0.17,"d":215,"m":4},{"x":4.22,"y":0.17,"d":215,"m":4},{"x":4.2,"y":0.17,"d":215,"m":4},{"x":4.18,"y":0.17,"d":200,"m":4.5},{"x":4.16,"y":0.17,"d":200,"m":4.5},{"x":4.14,"y":0.17,"d":200,"m":4.5},{"x":4.12,"y":0.17,"d":200,"m":4.5},{"x":4.1,"y":0.17,"d":200,"m":4.5},{"x":4.08,"y":0.17,"d":188,"m":5},{"x":4.06,"y":0.17,"d":188,"m":5},{"x":4.04,"y":0.17,"d":188,"m":5},{"x":4.02,"y":0.17,"d":188,"m":5},{"x":4,"y":0.17,"d":188,"m":5},{"x":3.98,"y":0.17,"d":188,"m":5},{"x":3.96,"y":0.17,"d":188,"m":5},{"x":3.94,"y":0.17,"d":188,"m":5},{"x":3.92,"y":0.17,"d":188,"m":5},{"x":3.9,"y":0.17,"d":188,"m":5},{"x":3.88,"y":0.17,"d":182,"m":4.5},{"x":3.86,"y":0.17,"d":182,"m":4.5},{"x":3.84,"y":0.17,"d":182,"m":4.5},{"x":3.82,"y":0.17,"d":182,"m":4.5},{"x":3.8,"y":0.17,"d":182,"m":4.5},{"x":3.78,"y":0.17,"d":182,"m":4.5},{"x":3.76,"y":0.17,"d":182,"m":4.5},{"x":3.74,"y":0.17,"d":182,"m":4.5},{"x":3.72,"y":0.17,"d":182,"m":4.5},{"x":3.7,"y":0.17,"d":182,"m":4.5},{"x":3.68,"y":0.17,"d":180,"m":3.5},{"x":3.66,"y":0.17,"d":180,"m":3.5},{"x":3.64,"y":0.17,"d":180,"m":3.5},{"x":3.62,"y":0.17,"d":180,"m":3.5},{"x":3.6,"y":0.17,"d":180,"m":3.5},{"x":3.58,"y":0.17,"d":180,"m":3.5},{"x":3.56,"y":0.17,"d":180,"m":3.5},{"x":3.54,"y":0.17,"d":170,"m":3},{"x":3.52,"y":0.17,"d":170,"m":3},{"x":3.5,"y":0.17,"d":165,"m":3},{"x":3.48,"y":0.17,"d":160,"m":3},{"x":3.46,"y":0.17,"d":155,"m":3.5},{"x":3.44,"y":0.17,"d":150,"m":3.5},{"x":3.42,"y":0.17,"d":146,"m":4},{"x":3.4,"y":0.17,"d":142,"m":4.5},{"x":3.38,"y":0.17,"d":138,"m":5},{"x":3.36,"y":0.17,"d":135,"m":5.5},{"x":3.34,"y":0.17,"d":132,"m":6},{"x":3.32,"y":0.17,"d":130,"m":6.5},{"x":3.3,"y":0.17,"d":128,"m":7},{"x":3.28,"y":0.17,"d":126,"m":8},{"x":3.26,"y":0.17,"d":124,"m":8.5},{"x":3.24,"y":0.17,"d":122,"m":9},{"x":3.22,"y":0.17,"d":120,"m":10},{"x":3.2,"y":0.17,"d":118,"m":11},{"x":3.18,"y":0.17,"d":116,"m":12},{"x":3.16,"y":0.17,"d":114,"m":13},{"x":3.14,"y":0.17,"d":112,"m":14},{"x":3.12,"y":0.17,"d":110,"m":15},{"x":3.1,"y":0.17,"d":108,"m":16},{"x":3.08,"y":0.17,"d":106,"m":17},{"x":3.06,"y":0.17,"d":110,"m":18},{"x":3.04,"y":0.17,"d":130,"m":16},{"x":3.02,"y":0.17,"d":160,"m":12},
{"x":4.28,"y":0.18,"d":200,"m":6},{"x":4.26,"y":0.18,"d":200,"m":6},{"x":4.24,"y":0.18,"d":200,"m":6},{"x":4.22,"y":0.18,"d":200,"m":6},{"x":4.2,"y":0.18,"d":200,"m":6},{"x":4.18,"y":0.18,"d":190,"m":6},{"x":4.16,"y":0.18,"d":190,"m":6},{"x":4.14,"y":0.18,"d":190,"m":6},{"x":4.12,"y":0.18,"d":190,"m":6},{"x":4.1,"y":0.18,"d":190,"m":6},{"x":4.08,"y":0.18,"d":190,"m":6},{"x":4.06,"y":0.18,"d":190,"m":6},{"x":4.04,"y":0.18,"d":190,"m":6},{"x":4.02,"y":0.18,"d":190,"m":6},{"x":4,"y":0.18,"d":190,"m":6},{"x":3.98,"y":0.18,"d":183,"m":6},{"x":3.96,"y":0.18,"d":183,"m":6},{"x":3.94,"y":0.18,"d":183,"m":6},{"x":3.92,"y":0.18,"d":183,"m":6},{"x":3.9,"y":0.18,"d":183,"m":6},{"x":3.88,"y":0.18,"d":183,"m":6},{"x":3.86,"y":0.18,"d":183,"m":6},{"x":3.84,"y":0.18,"d":183,"m":6},{"x":3.82,"y":0.18,"d":183,"m":6},{"x":3.8,"y":0.18,"d":183,"m":6},{"x":3.78,"y":0.18,"d":183,"m":6},{"x":3.76,"y":0.18,"d":183,"m":6},{"x":3.74,"y":0.18,"d":183,"m":6},{"x":3.72,"y":0.18,"d":183,"m":6},{"x":3.7,"y":0.18,"d":183,"m":6},{"x":3.68,"y":0.18,"d":180,"m":5},{"x":3.66,"y":0.18,"d":180,"m":5},{"x":3.64,"y":0.18,"d":180,"m":5},{"x":3.62,"y":0.18,"d":180,"m":5},{"x":3.6,"y":0.18,"d":180,"m":5},{"x":3.58,"y":0.18,"d":180,"m":5},{"x":3.56,"y":0.18,"d":180,"m":5},{"x":3.54,"y":0.18,"d":175,"m":5},{"x":3.52,"y":0.18,"d":175,"m":5},{"x":3.5,"y":0.18,"d":172,"m":5},{"x":3.48,"y":0.18,"d":168,"m":5},{"x":3.46,"y":0.18,"d":164,"m":5},{"x":3.44,"y":0.18,"d":160,"m":5},{"x":3.42,"y":0.18,"d":156,"m":5.5},{"x":3.4,"y":0.18,"d":152,"m":5.5},{"x":3.38,"y":0.18,"d":148,"m":6},{"x":3.36,"y":0.18,"d":145,"m":6.5},{"x":3.34,"y":0.18,"d":142,"m":7},{"x":3.32,"y":0.18,"d":140,"m":7.5},{"x":3.3,"y":0.18,"d":138,"m":8},{"x":3.28,"y":0.18,"d":136,"m":9},{"x":3.26,"y":0.18,"d":134,"m":10},{"x":3.24,"y":0.18,"d":132,"m":11},{"x":3.22,"y":0.18,"d":130,"m":12},{"x":3.2,"y":0.18,"d":128,"m":13},{"x":3.18,"y":0.18,"d":126,"m":14},{"x":3.16,"y":0.18,"d":124,"m":15},{"x":3.14,"y":0.18,"d":122,"m":16},{"x":3.12,"y":0.18,"d":120,"m":17},{"x":3.1,"y":0.18,"d":118,"m":18},{"x":3.08,"y":0.18,"d":116,"m":20},{"x":3.06,"y":0.18,"d":114,"m":22},{"x":3.04,"y":0.18,"d":112,"m":24},{"x":3.02,"y":0.18,"d":110,"m":26},
{"x":4.28,"y":0.19,"d":195,"m":7},{"x":4.26,"y":0.19,"d":195,"m":7},{"x":4.24,"y":0.19,"d":195,"m":7},{"x":4.22,"y":0.19,"d":195,"m":7},{"x":4.2,"y":0.19,"d":195,"m":7},{"x":4.18,"y":0.19,"d":187,"m":7},{"x":4.16,"y":0.19,"d":187,"m":7},{"x":4.14,"y":0.19,"d":187,"m":7},{"x":4.12,"y":0.19,"d":187,"m":7},{"x":4.1,"y":0.19,"d":187,"m":7},{"x":4.08,"y":0.19,"d":187,"m":7},{"x":4.06,"y":0.19,"d":187,"m":7},{"x":4.04,"y":0.19,"d":187,"m":7},{"x":4.02,"y":0.19,"d":187,"m":7},{"x":4,"y":0.19,"d":187,"m":7},{"x":3.98,"y":0.19,"d":187,"m":7},{"x":3.96,"y":0.19,"d":187,"m":7},{"x":3.94,"y":0.19,"d":187,"m":7},{"x":3.92,"y":0.19,"d":187,"m":7},{"x":3.9,"y":0.19,"d":187,"m":7},{"x":3.88,"y":0.19,"d":182,"m":6.5},{"x":3.86,"y":0.19,"d":182,"m":6.5},{"x":3.84,"y":0.19,"d":182,"m":6.5},{"x":3.82,"y":0.19,"d":182,"m":6.5},{"x":3.8,"y":0.19,"d":182,"m":6.5},{"x":3.78,"y":0.19,"d":182,"m":6.5},{"x":3.76,"y":0.19,"d":182,"m":6.5},{"x":3.74,"y":0.19,"d":182,"m":6.5},{"x":3.72,"y":0.19,"d":182,"m":6.5},{"x":3.7,"y":0.19,"d":182,"m":6.5},{"x":3.68,"y":0.19,"d":182,"m":6.5},{"x":3.66,"y":0.19,"d":182,"m":6.5},{"x":3.64,"y":0.19,"d":182,"m":6.5},{"x":3.62,"y":0.19,"d":182,"m":6.5},{"x":3.6,"y":0.19,"d":182,"m":6.5},{"x":3.58,"y":0.19,"d":178,"m":6},{"x":3.56,"y":0.19,"d":178,"m":6},{"x":3.54,"y":0.19,"d":178,"m":6},{"x":3.52,"y":0.19,"d":178,"m":6},{"x":3.5,"y":0.19,"d":175,"m":6},{"x":3.48,"y":0.19,"d":172,"m":6},{"x":3.46,"y":0.19,"d":169,"m":6},{"x":3.44,"y":0.19,"d":166,"m":6},{"x":3.42,"y":0.19,"d":163,"m":6.5},{"x":3.4,"y":0.19,"d":160,"m":6.5},{"x":3.38,"y":0.19,"d":157,"m":7},{"x":3.36,"y":0.19,"d":154,"m":7.5},{"x":3.34,"y":0.19,"d":151,"m":8},{"x":3.32,"y":0.19,"d":148,"m":8.5},{"x":3.3,"y":0.19,"d":146,"m":9},{"x":3.28,"y":0.19,"d":144,"m":9.5},{"x":3.26,"y":0.19,"d":142,"m":10},{"x":3.24,"y":0.19,"d":140,"m":10.5},{"x":3.22,"y":0.19,"d":138,"m":11},{"x":3.2,"y":0.19,"d":136,"m":11.5},{"x":3.18,"y":0.19,"d":134,"m":12},{"x":3.16,"y":0.19,"d":132,"m":12.5},{"x":3.14,"y":0.19,"d":130,"m":13},{"x":3.12,"y":0.19,"d":128,"m":13.5},{"x":3.1,"y":0.19,"d":126,"m":14},{"x":3.08,"y":0.19,"d":124,"m":14},{"x":3.06,"y":0.19,"d":122,"m":14},{"x":3.04,"y":0.19,"d":120,"m":14},{"x":3.02,"y":0.19,"d":118,"m":14},
{"x":4.28,"y":0.2,"d":190,"m":7},{"x":4.26,"y":0.2,"d":190,"m":7},{"x":4.24,"y":0.2,"d":190,"m":7},{"x":4.22,"y":0.2,"d":190,"m":7},{"x":4.2,"y":0.2,"d":190,"m":7},{"x":4.18,"y":0.2,"d":182,"m":7},{"x":4.16,"y":0.2,"d":182,"m":7},{"x":4.14,"y":0.2,"d":182,"m":7},{"x":4.12,"y":0.2,"d":182,"m":7},{"x":4.1,"y":0.2,"d":182,"m":7},{"x":4.08,"y":0.2,"d":182,"m":7},{"x":4.06,"y":0.2,"d":182,"m":7},{"x":4.04,"y":0.2,"d":182,"m":7},{"x":4.02,"y":0.2,"d":182,"m":7},{"x":4,"y":0.2,"d":182,"m":7},{"x":3.98,"y":0.2,"d":182,"m":7},{"x":3.96,"y":0.2,"d":182,"m":7},{"x":3.94,"y":0.2,"d":182,"m":7},{"x":3.92,"y":0.2,"d":182,"m":7},{"x":3.9,"y":0.2,"d":182,"m":7},{"x":3.88,"y":0.2,"d":182,"m":7},{"x":3.86,"y":0.2,"d":182,"m":7},{"x":3.84,"y":0.2,"d":182,"m":7},{"x":3.82,"y":0.2,"d":182,"m":7},{"x":3.8,"y":0.2,"d":182,"m":7},{"x":3.78,"y":0.2,"d":180,"m":6},{"x":3.76,"y":0.2,"d":180,"m":6},{"x":3.74,"y":0.2,"d":180,"m":6},{"x":3.72,"y":0.2,"d":180,"m":6},{"x":3.7,"y":0.2,"d":180,"m":6},{"x":3.68,"y":0.2,"d":180,"m":6},{"x":3.66,"y":0.2,"d":180,"m":6},{"x":3.64,"y":0.2,"d":180,"m":6},{"x":3.62,"y":0.2,"d":180,"m":6},{"x":3.6,"y":0.2,"d":180,"m":6},{"x":3.58,"y":0.2,"d":180,"m":5},{"x":3.56,"y":0.2,"d":180,"m":5},{"x":3.54,"y":0.2,"d":180,"m":5},{"x":3.52,"y":0.2,"d":180,"m":5},{"x":3.5,"y":0.2,"d":180,"m":5},{"x":3.48,"y":0.2,"d":178,"m":4.5},{"x":3.46,"y":0.2,"d":178,"m":4.5},{"x":3.44,"y":0.2,"d":178,"m":4.5},{"x":3.42,"y":0.2,"d":178,"m":4.5},{"x":3.4,"y":0.2,"d":178,"m":4.5},{"x":3.38,"y":0.2,"d":178,"m":4.5},{"x":3.36,"y":0.2,"d":178,"m":4.5},{"x":3.34,"y":0.2,"d":177,"m":5},{"x":3.32,"y":0.2,"d":177,"m":5.5},{"x":3.3,"y":0.2,"d":176,"m":6},{"x":3.28,"y":0.2,"d":176,"m":7},{"x":3.26,"y":0.2,"d":175,"m":8},{"x":3.24,"y":0.2,"d":175,"m":9},{"x":3.22,"y":0.2,"d":175,"m":10},{"x":3.2,"y":0.2,"d":175,"m":11},{"x":3.18,"y":0.2,"d":175,"m":12},{"x":3.16,"y":0.2,"d":175,"m":13},{"x":3.14,"y":0.2,"d":175,"m":13},{"x":3.12,"y":0.2,"d":175,"m":13},{"x":3.1,"y":0.2,"d":175,"m":13},{"x":3.08,"y":0.2,"d":175,"m":13},{"x":3.06,"y":0.2,"d":175,"m":13},{"x":3.04,"y":0.2,"d":175,"m":13},{"x":3.02,"y":0.2,"d":175,"m":13},
{"x":3,"y":0.17,"d":115,"m":20},{"x":3,"y":0.18,"d":118,"m":22},{"x":3,"y":0.19,"d":125,"m":14},{"x":3,"y":0.2,"d":175,"m":13},
{"x":2.99,"y":0.16,"d":180,"m":14},
{"x":2.98,"y":0.02,"d":180,"m":2},{"x":2.97,"y":0.02,"d":180,"m":3},{"x":2.96,"y":0.02,"d":180,"m":4},{"x":2.95,"y":0.02,"d":180,"m":5},{"x":2.94,"y":0.02,"d":180,"m":6},{"x":2.93,"y":0.02,"d":180,"m":6.5},{"x":2.92,"y":0.02,"d":180,"m":7},{"x":2.91,"y":0.02,"d":180,"m":7.5},{"x":2.9,"y":0.02,"d":180,"m":8},
{"x":2.98,"y":0.03,"d":95,"m":8},{"x":2.97,"y":0.03,"d":105,"m":8},{"x":2.96,"y":0.03,"d":115,"m":8},{"x":2.95,"y":0.03,"d":128,"m":8},{"x":2.94,"y":0.03,"d":140,"m":8},{"x":2.93,"y":0.03,"d":150,"m":8.5},{"x":2.92,"y":0.03,"d":160,"m":9},{"x":2.91,"y":0.03,"d":165,"m":9.5},{"x":2.9,"y":0.03,"d":170,"m":10},
{"x":2.98,"y":0.04,"d":95,"m":12},{"x":2.97,"y":0.04,"d":100,"m":12.5},{"x":2.96,"y":0.04,"d":105,"m":13},{"x":2.95,"y":0.04,"d":112,"m":13.5},{"x":2.94,"y":0.04,"d":120,"m":14},{"x":2.93,"y":0.04,"d":130,"m":14.5},{"x":2.92,"y":0.04,"d":140,"m":15},{"x":2.91,"y":0.04,"d":148,"m":15.5},{"x":2.9,"y":0.04,"d":155,"m":16},
{"x":2.98,"y":0.05,"d":93,"m":15},{"x":2.97,"y":0.05,"d":96,"m":16.5},{"x":2.96,"y":0.05,"d":100,"m":18},{"x":2.95,"y":0.05,"d":106,"m":20},{"x":2.94,"y":0.05,"d":112,"m":22},{"x":2.93,"y":0.05,"d":118,"m":24},{"x":2.92,"y":0.05,"d":125,"m":26},{"x":2.91,"y":0.05,"d":132,"m":28},{"x":2.9,"y":0.05,"d":140,"m":30},
{"x":2.98,"y":0.06,"d":93,"m":22},{"x":2.97,"y":0.06,"d":96,"m":25},{"x":2.96,"y":0.06,"d":100,"m":28},{"x":2.95,"y":0.06,"d":105,"m":31},{"x":2.94,"y":0.06,"d":110,"m":34},{"x":2.93,"y":0.06,"d":115,"m":36},{"x":2.92,"y":0.06,"d":120,"m":38},{"x":2.91,"y":0.06,"d":126,"m":40},{"x":2.9,"y":0.06,"d":132,"m":42},
{"x":2.98,"y":0.07,"d":93,"m":28},{"x":2.97,"y":0.07,"d":96,"m":32},{"x":2.96,"y":0.07,"d":100,"m":36},{"x":2.95,"y":0.07,"d":104,"m":39},{"x":2.94,"y":0.07,"d":108,"m":42},{"x":2.93,"y":0.07,"d":112,"m":45},{"x":2.92,"y":0.07,"d":117,"m":48},{"x":2.91,"y":0.07,"d":121,"m":50},{"x":2.9,"y":0.07,"d":126,"m":52},
{"x":2.98,"y":0.08,"d":92,"m":30},{"x":2.97,"y":0.08,"d":95,"m":35},{"x":2.96,"y":0.08,"d":99,"m":40},{"x":2.95,"y":0.08,"d":103,"m":44},{"x":2.94,"y":0.08,"d":107,"m":47},{"x":2.93,"y":0.08,"d":110,"m":50},{"x":2.92,"y":0.08,"d":114,"m":53},{"x":2.91,"y":0.08,"d":117,"m":55},{"x":2.9,"y":0.08,"d":121,"m":57},
{"x":2.98,"y":0.09,"d":93,"m":30},{"x":2.97,"y":0.09,"d":96,"m":35},{"x":2.96,"y":0.09,"d":100,"m":40},{"x":2.95,"y":0.09,"d":104,"m":44},{"x":2.94,"y":0.09,"d":108,"m":48},{"x":2.93,"y":0.09,"d":111,"m":51},{"x":2.92,"y":0.09,"d":115,"m":54},{"x":2.91,"y":0.09,"d":118,"m":56},{"x":2.9,"y":0.09,"d":122,"m":58},
{"x":2.98,"y":0.1,"d":93,"m":31},{"x":2.97,"y":0.1,"d":96,"m":35},{"x":2.96,"y":0.1,"d":100,"m":40},{"x":2.95,"y":0.1,"d":104,"m":44},{"x":2.94,"y":0.1,"d":108,"m":48},{"x":2.93,"y":0.1,"d":111,"m":51},{"x":2.92,"y":0.1,"d":115,"m":54},{"x":2.91,"y":0.1,"d":118,"m":56},{"x":2.9,"y":0.1,"d":122,"m":58},
{"x":2.98,"y":0.11,"d":93,"m":31},{"x":2.97,"y":0.11,"d":97,"m":36},{"x":2.96,"y":0.11,"d":101,"m":41},{"x":2.95,"y":0.11,"d":104,"m":45},{"x":2.94,"y":0.11,"d":108,"m":48},{"x":2.93,"y":0.11,"d":112,"m":51},{"x":2.92,"y":0.11,"d":116,"m":54},{"x":2.91,"y":0.11,"d":119,"m":56},{"x":2.9,"y":0.11,"d":123,"m":58},
{"x":2.98,"y":0.12,"d":93,"m":31},{"x":2.97,"y":0.12,"d":97,"m":36},{"x":2.96,"y":0.12,"d":101,"m":41},{"x":2.95,"y":0.12,"d":105,"m":45},{"x":2.94,"y":0.12,"d":109,"m":48},{"x":2.93,"y":0.12,"d":112,"m":51},{"x":2.92,"y":0.12,"d":116,"m":54},{"x":2.91,"y":0.12,"d":119,"m":56},{"x":2.9,"y":0.12,"d":123,"m":58},
{"x":2.98,"y":0.13,"d":94,"m":31},{"x":2.97,"y":0.13,"d":97,"m":36},{"x":2.96,"y":0.13,"d":101,"m":41},{"x":2.95,"y":0.13,"d":105,"m":45},{"x":2.94,"y":0.13,"d":109,"m":48},{"x":2.93,"y":0.13,"d":112,"m":51},{"x":2.92,"y":0.13,"d":116,"m":54},{"x":2.91,"y":0.13,"d":119,"m":56},{"x":2.9,"y":0.13,"d":123,"m":58},
{"x":2.98,"y":0.14,"d":94,"m":31},{"x":2.97,"y":0.14,"d":97,"m":36},{"x":2.96,"y":0.14,"d":101,"m":41},{"x":2.95,"y":0.14,"d":105,"m":45},{"x":2.94,"y":0.14,"d":109,"m":48},{"x":2.93,"y":0.14,"d":112,"m":51},{"x":2.92,"y":0.14,"d":116,"m":54},{"x":2.91,"y":0.14,"d":119,"m":56},{"x":2.9,"y":0.14,"d":123,"m":58},
{"x":2.98,"y":0.15,"d":94,"m":31},{"x":2.97,"y":0.15,"d":97,"m":36},{"x":2.96,"y":0.15,"d":101,"m":41},{"x":2.95,"y":0.15,"d":105,"m":45},{"x":2.94,"y":0.15,"d":109,"m":48},{"x":2.93,"y":0.15,"d":112,"m":51},{"x":2.92,"y":0.15,"d":116,"m":54},{"x":2.91,"y":0.15,"d":119,"m":56},{"x":2.9,"y":0.15,"d":123,"m":58},
{"x":2.98,"y":0.16,"d":94,"m":30},{"x":2.97,"y":0.16,"d":97,"m":35},{"x":2.96,"y":0.16,"d":101,"m":40},{"x":2.95,"y":0.16,"d":105,"m":43},{"x":2.94,"y":0.16,"d":109,"m":46},{"x":2.93,"y":0.16,"d":112,"m":49},{"x":2.92,"y":0.16,"d":116,"m":52},{"x":2.91,"y":0.16,"d":119,"m":54},{"x":2.9,"y":0.16,"d":123,"m":56},
{"x":2.98,"y":0.17,"d":95,"m":30},{"x":2.97,"y":0.17,"d":98,"m":32},{"x":2.96,"y":0.17,"d":102,"m":34},{"x":2.95,"y":0.17,"d":106,"m":36},{"x":2.94,"y":0.17,"d":110,"m":38},{"x":2.93,"y":0.17,"d":113,"m":39},{"x":2.92,"y":0.17,"d":117,"m":40},{"x":2.91,"y":0.17,"d":120,"m":41},{"x":2.9,"y":0.17,"d":124,"m":42},
{"x":2.98,"y":0.18,"d":96,"m":24},{"x":2.97,"y":0.18,"d":100,"m":24},{"x":2.96,"y":0.18,"d":104,"m":25},{"x":2.95,"y":0.18,"d":108,"m":25},{"x":2.94,"y":0.18,"d":112,"m":26},{"x":2.93,"y":0.18,"d":116,"m":27},{"x":2.92,"y":0.18,"d":120,"m":28},{"x":2.91,"y":0.18,"d":124,"m":29},{"x":2.9,"y":0.18,"d":128,"m":30},
{"x":2.98,"y":0.19,"d":100,"m":12},{"x":2.97,"y":0.19,"d":105,"m":12},{"x":2.96,"y":0.19,"d":110,"m":12.5},{"x":2.95,"y":0.19,"d":115,"m":12.5},{"x":2.94,"y":0.19,"d":120,"m":13},{"x":2.93,"y":0.19,"d":125,"m":13.5},{"x":2.92,"y":0.19,"d":130,"m":14},{"x":2.91,"y":0.19,"d":135,"m":15},{"x":2.9,"y":0.19,"d":140,"m":16},
{"x":2.98,"y":0.2,"d":175,"m":14},{"x":2.97,"y":0.2,"d":175,"m":14},{"x":2.96,"y":0.2,"d":175,"m":15},{"x":2.95,"y":0.2,"d":175,"m":15},{"x":2.94,"y":0.2,"d":175,"m":16},{"x":2.93,"y":0.2,"d":175,"m":16},{"x":2.92,"y":0.2,"d":175,"m":17},{"x":2.91,"y":0.2,"d":175,"m":17},{"x":2.9,"y":0.2,"d":175,"m":18}
]},
"mark":{"type":"point","shape":"M0,0L2,0M1.35,-0.42L2,0L1.35,0.42","filled":false,"color":"#0072BD","strokeWidth":1.05,"opacity":1},
"encoding":{
"x":{"field":"x","type":"quantitative","scale":{"domain":[2.800102,4.342813],"reverse":true,"nice":false,"zero":false},
"axis":{"orient":"top","offset":-44,"values":[4.3,4.2,4.1,4,3.9,3.8,3.7,3.6,3.5,3.4,3.3,3.2,3.1,3,2.9],"labels":false,"domain":false,"grid":false,"title":null,"tickSize":-9,"tickColor":"#262626","tickWidth":0.8}},
"y":{"field":"y","type":"quantitative","scale":{"domain":[-0.026754,0.219298],"nice":false,"zero":false},
"axis":{"orient":"left","offset":-30,"values":[0,0.02,0.04,0.06,0.08,0.1,0.12,0.14,0.16,0.18,0.2],"labels":false,"domain":false,"grid":false,"title":null,"tickSize":-9,"tickColor":"#262626","tickWidth":0.8}},
"angle":{"field":"d","type":"quantitative","scale":{"domain":[0,360],"range":[360,0]}},
"size":{"field":"m","type":"quantitative","scale":{"type":"pow","exponent":2,"domain":[0,100],"range":[0,32400]},"legend":null}
}},
{"data":{"values":[{"x":3,"y":0.015,"y2":0.16}]},
"mark":{"type":"rule","color":"#000000","strokeWidth":6,"strokeCap":"butt"},
"encoding":{
"x":{"field":"x","type":"quantitative","scale":{"domain":[2.800102,4.342813],"reverse":true,"nice":false,"zero":false},"axis":null},
"y":{"field":"y","type":"quantitative","scale":{"domain":[-0.026754,0.219298],"nice":false,"zero":false},"axis":null},
"y2":{"field":"y2"}
}},
{"data":{"values":[{"x":4.3,"x2":2.9,"y":0,"y2":0.2}]},
"mark":{"type":"rect","filled":false,"stroke":"#4d4d4d","strokeWidth":1},
"encoding":{
"x":{"field":"x","type":"quantitative","scale":{"domain":[2.800102,4.342813],"reverse":true,"nice":false,"zero":false},
"axis":{"orient":"bottom","offset":-61,"values":[4.3,4.2,4.1,4,3.9,3.8,3.7,3.6,3.5,3.4,3.3,3.2,3.1,3,2.9],"labelExpr":"datum.value > 4.05 ? format(datum.value * 100, 'd') : format(datum.value, '.1~f')","domain":false,"grid":false,"title":"x (m)","tickSize":-9,"tickColor":"#262626","tickWidth":0.8,"labelPadding":19,"labelFlush":false,"labelOverlap":false,"labelFont":"Liberation Sans","labelFontSize":13,"labelFontWeight":"bold","labelColor":"#262626","titleFont":"Liberation Sans","titleFontSize":15,"titleFontWeight":"bold","titleColor":"#262626","titlePadding":5}},
"x2":{"field":"x2"},
"y":{"field":"y","type":"quantitative","scale":{"domain":[-0.026754,0.219298],"nice":false,"zero":false},
"axis":{"orient":"right","offset":-70,"values":[0,0.02,0.04,0.06,0.08,0.1,0.12,0.14,0.16,0.18,0.2],"format":".2~f","domain":false,"grid":false,"title":"y (m)","titleAngle":-90,"tickSize":-9,"tickColor":"#262626","tickWidth":0.8,"labelPadding":15,"labelFlush":false,"labelOverlap":false,"labelFont":"Liberation Sans","labelFontSize":13,"labelFontWeight":"bold","labelColor":"#262626","titleFont":"Liberation Sans","titleFontSize":15,"titleFontWeight":"bold","titleColor":"#262626","titlePadding":30}},
"y2":{"field":"y2"}
}}
]
}
